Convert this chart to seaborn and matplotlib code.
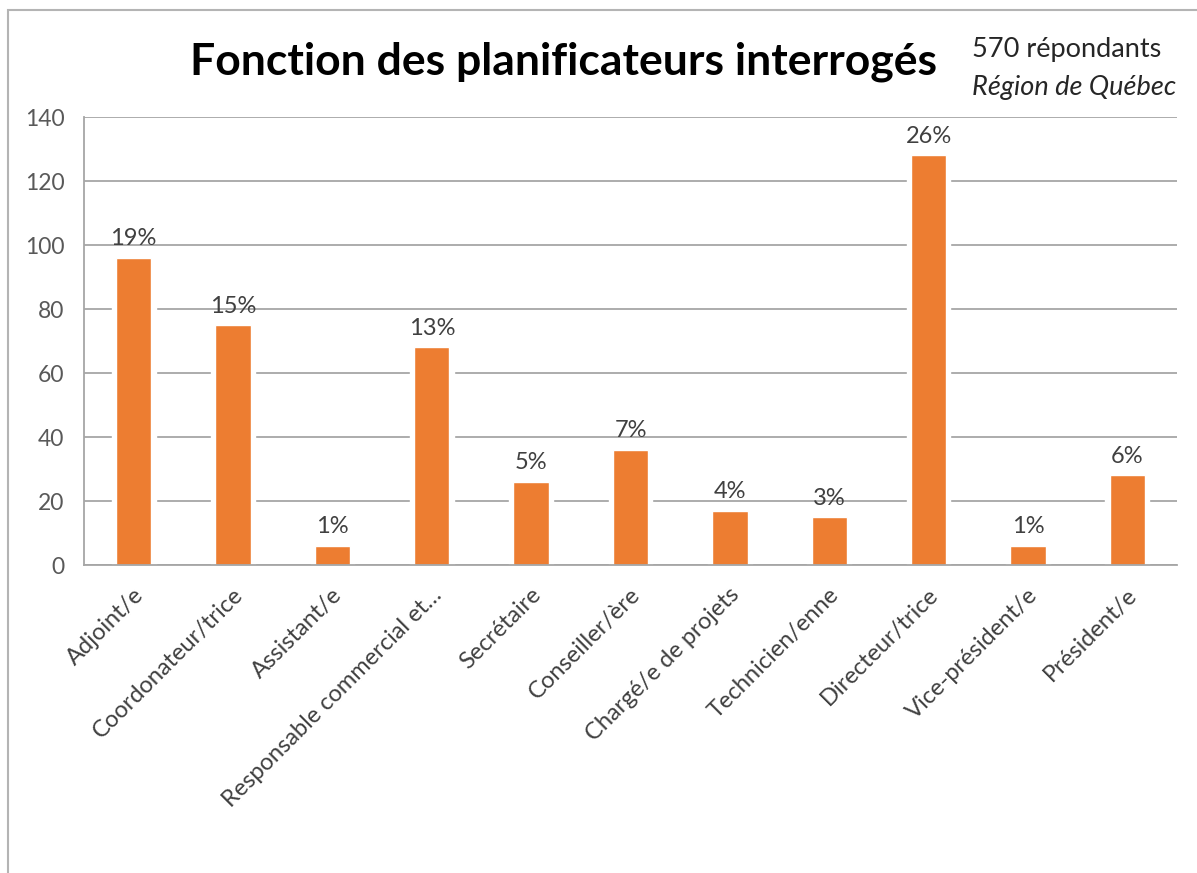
import numpy as np
import pandas as pd
import matplotlib
matplotlib.use("Agg")
import matplotlib.pyplot as plt
import matplotlib.transforms as mtransforms
import seaborn as sns

# données
fonctions = ["Adjoint/e", "Coordonateur/trice", "Assistant/e", "Responsable commercial et…",
             "Secrétaire", "Conseiller/ère", "Chargé/e de projets", "Technicien/enne",
             "Directeur/trice", "Vice-président/e", "Président/e"]
nombres = [96, 75, 6, 68, 26, 36, 17, 15, 128, 6, 28]
pourcentages = ["19%", "15%", "1%", "13%", "5%", "7%", "4%", "3%", "26%", "1%", "6%"]
yticks = [0, 20, 40, 60, 80, 100, 120, 140]

df = pd.DataFrame({"fonction": fonctions, "n": nombres})

sns.set_style("white")
plt.rcParams['font.family'] = ['Lato', 'DejaVu Sans']

fig = plt.figure(figsize=(11.97, 8.73), dpi=100)
ax = fig.add_axes([84/1197, 1 - 565/873, (1177-84)/1197, (565-117)/873])

# bordure grise du cadre
fig.patches.append(plt.Rectangle((8/1197, -0.1), 1.2, 1 - 10/873 + 0.1, transform=fig.transFigure,
                                 fill=False, edgecolor="#b4b4b4", linewidth=1.5))

# barre blanche derrière pour couper la grille, puis barre orange
sns.barplot(data=df, x="fonction", y="n", color="white", width=0.44, saturation=1,
            ax=ax, zorder=2)
sns.barplot(data=df, x="fonction", y="n", color="#ED7D31", width=0.355, saturation=1,
            ax=ax, zorder=3)

ax.set_ylim(0, 140)
ax.set_xlim(-0.5, len(fonctions) - 0.5)
ax.set_yticks(yticks)
ax.yaxis.grid(True, color="#a6a6a6", linewidth=1.3, zorder=1)
ax.set_axisbelow(True)
for s in ["top", "right"]:
    ax.spines[s].set_visible(False)
for s in ["left", "bottom"]:
    ax.spines[s].set_color("#a6a6a6")
    ax.spines[s].set_linewidth(1.3)
    ax.spines[s].set_zorder(4)

ax.set_xlabel("")
ax.set_ylabel("")
ax.tick_params(axis="y", length=6, color="#a6a6a6", width=1.3, labelsize=16.5,
               labelcolor="#595959", pad=8)
ax.tick_params(axis="x", length=0, labelsize=17, labelcolor="#404040", pad=16)
ax.set_xticks(np.arange(-0.5, len(fonctions)), minor=True)
ax.tick_params(axis="x", which="minor", length=7, color="#a6a6a6", width=1.3)

# étiquettes inclinées, coin haut-droit sous la catégorie
decal = mtransforms.ScaledTranslation(0.14, 0.03, fig.dpi_scale_trans)
for lab in ax.get_xticklabels():
    lab.set_rotation(45)
    lab.set_ha("right")
    lab.set_va("top")
    lab.set_transform(lab.get_transform() + decal)

for i, (v, p) in enumerate(zip(nombres, pourcentages)):
    ax.annotate(p, (i, v), xytext=(0, 6), textcoords="offset points",
                ha="center", va="bottom", fontsize=17, color="#404040", zorder=5)

fig.text(563/1197, 1 - 62/873, "Fonction des planificateurs interrogés",
         ha="center", va="center", fontsize=32, fontweight="bold", color="black")
fig.text(972/1197, 1 - 49/873, "570 répondants", ha="left", va="center",
         fontsize=19.5, color="#262626")
fig.text(972/1197, 1 - 87/873, "Région de Québec", ha="left", va="center",
         fontsize=19.5, style="italic", color="#262626")

fig.savefig("out.png", dpi=100)
